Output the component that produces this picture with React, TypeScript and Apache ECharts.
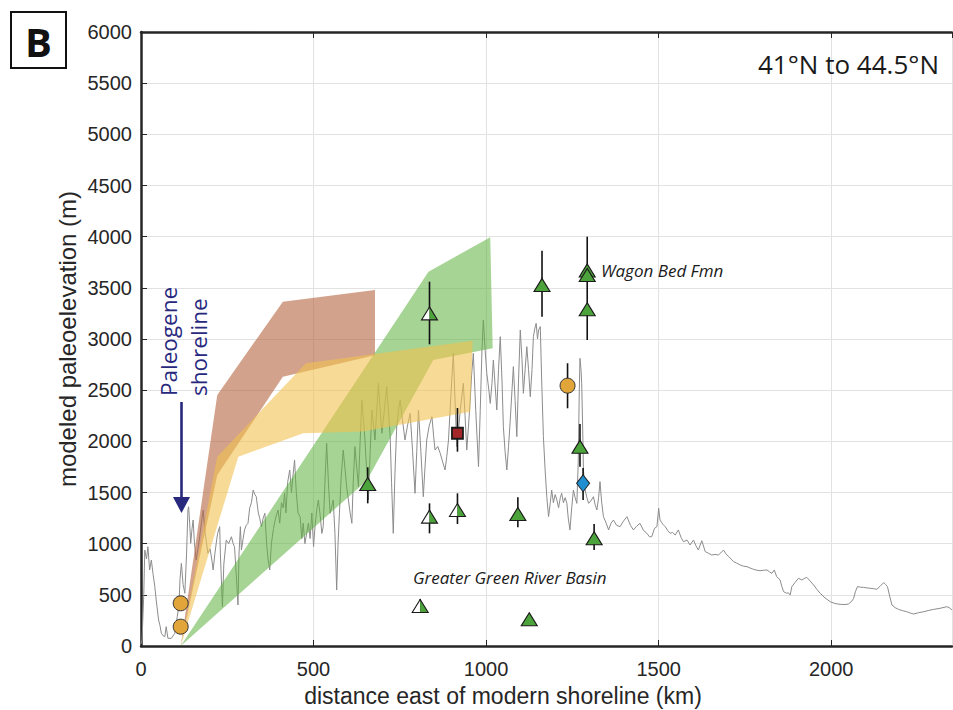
import React, { useEffect, useRef } from "react";
import * as echarts from "echarts";

// Topographic profile: [distance km, elevation m]
const topo: number[][] = [
  [0, 20], [3, 60], [8, 500], [11, 938], [16, 850], [20, 970], [25, 743], [30, 840], [35, 700], [40, 580],
  [44, 450], [51, 254], [55, 200], [59, 124], [64, 100], [69, 91], [73, 189], [78, 75], [88, 75], [98, 124],
  [105, 286], [110, 400], [113, 650], [117, 808], [122, 600], [127, 515], [132, 900], [136, 1329], [138, 1361],
  [141, 1200], [144, 1004], [148, 1150], [151, 1231], [155, 1000], [160, 840], [165, 950], [170, 1068],
  [175, 1200], [180, 1329], [186, 1100], [190, 1000], [194, 906], [200, 950], [205, 850], [209, 743],
  [214, 900], [218, 1004], [222, 1100], [228, 1166], [230, 900], [233, 645], [236, 384], [240, 800],
  [247, 1036], [254, 1000], [262, 1068], [267, 1000], [271, 970], [276, 700], [281, 401], [284, 900],
  [288, 1166], [291, 938], [296, 1050], [300, 1134], [305, 1180], [310, 1199], [315, 1350], [320, 1400],
  [325, 1524], [330, 1480], [334, 1459], [340, 1300], [344, 1250], [349, 1166], [354, 1250], [359, 1297],
  [364, 1000], [368, 850], [373, 743], [378, 1004], [384, 1150], [390, 1250], [397, 1329], [402, 1200],
  [407, 1400], [412, 1350], [416, 1492], [420, 1300], [425, 1600], [431, 1720], [436, 1500], [440, 1650],
  [445, 1818], [450, 1500], [455, 1300], [461, 1264], [466, 1050], [470, 1200], [475, 1000], [480, 1101],
  [485, 1200], [490, 1050], [495, 1300], [500, 970], [505, 1200], [510, 1350], [514, 1427], [520, 1250],
  [524, 1100], [528, 1166], [533, 1600], [538, 1981], [543, 1600], [548, 1297], [552, 1350], [557, 1427],
  [562, 1100], [567, 547], [571, 1000], [575, 1297], [580, 1650], [586, 1915], [592, 1700], [596, 1550],
  [601, 1427], [606, 1300], [611, 1199], [615, 1600], [620, 1948], [625, 1750], [630, 1557], [635, 2000],
  [640, 2404], [645, 2200], [649, 2013], [654, 1700], [659, 1427], [664, 1900], [669, 2306], [674, 2150],
  [678, 2013], [683, 2300], [688, 2567], [693, 2300], [698, 2079], [705, 2300], [712, 2534], [717, 2300],
  [722, 2046], [726, 1600], [731, 1101], [736, 1700], [741, 2143], [746, 2300], [751, 2404], [758, 2200],
  [765, 2013], [772, 2150], [780, 2274], [787, 1900], [794, 1492], [799, 1900], [804, 2306], [811, 1900],
  [818, 1459], [823, 1750], [828, 2013], [835, 2150], [843, 2241], [848, 2050], [852, 1915], [860, 1950],
  [867, 1883], [874, 1800], [881, 1720], [886, 1850], [891, 2013], [898, 2450], [905, 2860], [910, 2400],
  [915, 1948], [920, 2100], [925, 2306], [930, 2450], [934, 2567], [939, 2250], [944, 1915], [949, 2150],
  [954, 2404], [958, 2650], [963, 2860], [970, 2300], [978, 1752], [983, 2300], [988, 2893], [992, 3186],
  [997, 2900], [1002, 2665], [1008, 2500], [1012, 2371], [1017, 2567], [1021, 2795], [1026, 2550],
  [1031, 2306], [1036, 2700], [1041, 3023], [1046, 2600], [1050, 2143], [1055, 1900], [1060, 1720],
  [1065, 1950], [1070, 2209], [1075, 2500], [1079, 2730], [1084, 2400], [1089, 2046], [1094, 2600],
  [1099, 3088], [1104, 2800], [1108, 2469], [1113, 2700], [1118, 2925], [1123, 2700], [1128, 2436],
  [1133, 2700], [1137, 3023], [1141, 3100], [1145, 3153], [1149, 3000], [1152, 3088], [1157, 3121],
  [1161, 2600], [1166, 2046], [1171, 1720], [1176, 1450], [1181, 1264], [1186, 1400], [1190, 1524],
  [1195, 1400], [1200, 1480], [1205, 1427], [1210, 1350], [1215, 1450], [1219, 1492], [1224, 1400],
  [1229, 1450], [1234, 1394], [1238, 1250], [1243, 1134], [1248, 1350], [1253, 1524], [1258, 1450],
  [1263, 1394], [1267, 1800], [1270, 2500], [1272, 2811], [1275, 2700], [1277, 2567], [1280, 2100],
  [1282, 1720], [1285, 1600], [1287, 1524], [1292, 1450], [1297, 1394], [1304, 1420], [1311, 1459],
  [1316, 1380], [1321, 1329], [1326, 1450], [1330, 1606], [1335, 1400], [1340, 1264], [1348, 1200],
  [1355, 1134], [1362, 1200], [1369, 1231], [1378, 1180], [1388, 1166], [1398, 1220], [1408, 1264],
  [1418, 1180], [1427, 1134], [1436, 1170], [1446, 1199], [1456, 1130], [1466, 1101], [1473, 1068],
  [1480, 1068], [1488, 1150], [1495, 1166], [1500, 1346], [1504, 1231], [1512, 1190], [1519, 1166],
  [1526, 1130], [1533, 1101], [1540, 1110], [1548, 1085], [1557, 1134], [1565, 1060], [1572, 1019],
  [1582, 1036], [1591, 987], [1601, 1036], [1608, 980], [1615, 938], [1625, 1029], [1635, 922],
  [1645, 905], [1654, 889], [1663, 895], [1673, 889], [1680, 910], [1688, 938], [1695, 900], [1703, 873],
  [1710, 850], [1717, 824], [1726, 810], [1736, 792], [1746, 780], [1756, 775], [1765, 762], [1775, 749],
  [1785, 740], [1794, 736], [1804, 740], [1814, 743], [1821, 725], [1828, 710], [1835, 743], [1842, 678],
  [1852, 645], [1857, 580], [1862, 531], [1871, 515], [1876, 520], [1881, 498], [1886, 580], [1895, 620],
  [1905, 662], [1915, 645], [1922, 660], [1929, 671], [1939, 635], [1949, 596], [1958, 555], [1968, 515],
  [1982, 470], [1997, 433], [2011, 415], [2026, 407], [2040, 405], [2050, 410], [2060, 440], [2065, 466],
  [2070, 530], [2076, 580], [2085, 575], [2094, 573], [2103, 568], [2113, 564], [2123, 560], [2132, 554],
  [2142, 585], [2152, 619], [2158, 600], [2163, 580], [2170, 480], [2176, 401], [2185, 375], [2195, 358],
  [2207, 345], [2219, 335], [2229, 322], [2239, 313], [2253, 325], [2268, 335], [2283, 348], [2297, 358],
  [2315, 368], [2335, 384], [2342, 375], [2350, 352],
];

// Shaded model envelopes: polygon vertices [km, m]
const brownPoly: number[][] = [
  [115, 0], [221, 2453], [411, 3365], [678, 3479], [678, 2840], [411, 2632], [221, 1671],
];
const greenPoly: number[][] = [
  [115, 0], [833, 3658], [1012, 3994], [1019, 2909], [847, 2795], [654, 1616],
];
const yellowPoly: number[][] = [
  [115, 0], [221, 1850], [478, 2763], [961, 2983], [954, 2290], [644, 2095], [470, 2079], [282, 1850],
];

// Proxy estimates [km, m]
const fullTriangles: number[][] = [
  [1162, 3528], [1293, 3670], [1293, 3625], [1293, 3290], [1272, 1948],
  [1092, 1290], [1313, 1052], [1125, 261], [657, 1583],
];
const halfTriangles: number[][] = [
  [836, 3250], [836, 1264], [917, 1329], [809, 391],
];
const circles: number[][] = [[1236, 2544], [115, 417], [115, 189]];
const squares: number[][] = [[917, 2079]];
const diamonds: number[][] = [[1281, 1590]];

// Error bars [km, low m, high m]
const errorBars: number[][] = [
  [836, 2948, 3560], [1162, 3218, 3863], [1293, 2990, 4000], [1236, 2323, 2763],
  [917, 1899, 2326], [1272, 1752, 2170], [1281, 1427, 1740], [836, 1101, 1394],
  [917, 1192, 1492], [1092, 1160, 1453], [1313, 938, 1192], [809, 322, 459], [657, 1394, 1746],
];

const polys = [brownPoly, greenPoly, yellowPoly];
const polyColors = ["#b5643f", "#5cb03c", "#f2c14e"];
const polyOpacity = [0.6, 0.55, 0.6];

const GREEN = "#4da33b";
const AXIS = "#262626";
const FONT = "'Liberation Sans', Arial, Helvetica, sans-serif";
const MYRIAD = "'Open Sans', 'Noto Sans', sans-serif";
const NAVY = "#28287e";

export default function App() {
  const ref = useRef<HTMLDivElement>(null);
  useEffect(() => {
    const chart = echarts.init(ref.current!, null, { renderer: "svg" });
    const plain = (v: number) => String(v);
    const option: any = {
      animation: false,
      grid: { left: 141, right: 1, top: 32, bottom: 64, containLabel: false },
      xAxis: [
        {
          type: "value", min: 0, max: 2350, interval: 500, position: "bottom",
          axisLine: { show: true, onZero: false, lineStyle: { color: AXIS, width: 2.5 } },
          axisTick: { show: true, inside: true, length: 6, lineStyle: { color: AXIS } },
          axisLabel: { color: AXIS, fontSize: 20, fontFamily: FONT, margin: 13, showMaxLabel: false, formatter: plain },
          splitLine: { show: true, lineStyle: { color: "#e2e2e2", width: 1 } },
        },
        {
          type: "value", min: 0, max: 2350, interval: 500, position: "top",
          axisLine: { show: true, onZero: false, lineStyle: { color: AXIS, width: 2.5 } },
          axisTick: { show: true, inside: true, length: 6, lineStyle: { color: AXIS } },
          axisLabel: { show: false },
          splitLine: { show: false },
        },
      ],
      yAxis: {
        type: "value", min: 0, max: 6000, interval: 500,
        axisLine: { show: true, onZero: false, lineStyle: { color: AXIS, width: 2.5 } },
        axisTick: { show: true, inside: true, length: 6, lineStyle: { color: AXIS } },
        axisLabel: { color: AXIS, fontSize: 20, fontFamily: FONT, margin: 9, formatter: plain },
        splitLine: { show: true, lineStyle: { color: "#e2e2e2", width: 1 } },
      },
      series: [
        {
          type: "line", data: topo, showSymbol: false, symbol: "none", z: 2,
          lineStyle: { color: "#8c8c8c", width: 1 },
        },
        {
          type: "custom", data: [0, 1, 2], z: 3, silent: true,
          renderItem: (params: any, api: any) => {
            const i = params.dataIndex;
            const pts = polys[i].map((p) => api.coord(p));
            return {
              type: "polygon",
              shape: { points: pts },
              style: { fill: polyColors[i], opacity: polyOpacity[i], stroke: "none" },
            };
          },
        },
        {
          type: "custom", data: errorBars, z: 4, silent: true,
          encode: { x: 0, y: [1, 2] },
          renderItem: (params: any, api: any) => {
            const a = api.coord([api.value(0), api.value(1)]);
            const b = api.coord([api.value(0), api.value(2)]);
            return {
              type: "line",
              shape: { x1: a[0], y1: a[1], x2: b[0], y2: b[1] },
              style: { stroke: "#111", lineWidth: 1.6 },
            };
          },
        },
        {
          type: "scatter", data: fullTriangles, z: 5, symbol: "triangle", symbolSize: [16, 13],
          itemStyle: { color: GREEN, borderColor: "#1a1a1a", borderWidth: 1.1, opacity: 1 },
        },
        {
          type: "custom", data: halfTriangles, z: 5, silent: true,
          renderItem: (params: any, api: any) => {
            const p = api.coord([api.value(0), api.value(1)]);
            const w = 8, h = 6.5;
            return {
              type: "group",
              children: [
                { type: "polygon", shape: { points: [[p[0], p[1] - h], [p[0] - w, p[1] + h], [p[0], p[1] + h]] }, style: { fill: "#ffffff" } },
                { type: "polygon", shape: { points: [[p[0], p[1] - h], [p[0], p[1] + h], [p[0] + w, p[1] + h]] }, style: { fill: GREEN } },
                { type: "polygon", shape: { points: [[p[0], p[1] - h], [p[0] - w, p[1] + h], [p[0] + w, p[1] + h]] }, style: { fill: "none", stroke: "#1a1a1a", lineWidth: 1.1 } },
              ],
            };
          },
        },
        {
          type: "scatter", data: circles, z: 5, symbol: "circle", symbolSize: 15,
          itemStyle: { color: "#e2a53a", borderColor: "#333", borderWidth: 1, opacity: 1 },
        },
        {
          type: "scatter", data: squares, z: 5, symbol: "rect", symbolSize: 11,
          itemStyle: { color: "#a52629", borderColor: "#1a1a1a", borderWidth: 1.8, opacity: 1 },
        },
        {
          type: "scatter", data: diamonds, z: 5, symbol: "diamond", symbolSize: [13, 17],
          itemStyle: { color: "#1f8fd0", borderColor: "#222", borderWidth: 1, opacity: 1 },
        },
      ],
      graphic: [
        { type: "rect", shape: { x: 11, y: 12, width: 55, height: 56 }, style: { fill: "#fff", stroke: "#111", lineWidth: 2 }, z: 10 },
        { type: "text", x: 38.5, y: 41, style: { text: "B", fontSize: 40, fontWeight: "bold", fontFamily: MYRIAD, fill: "#111", align: "center", verticalAlign: "middle" }, z: 11 },
        { type: "text", x: 939, y: 64, style: { text: "41°N to 44.5°N", fontSize: 26, fontFamily: MYRIAD, fill: "#1a1a1a", align: "right", verticalAlign: "middle" }, z: 11 },
        { type: "text", x: 601, y: 270, style: { text: "Wagon Bed Fmn", fontSize: 17, fontStyle: "italic", fontFamily: MYRIAD, fill: "#1a1a1a", align: "left", verticalAlign: "middle" }, z: 11 },
        { type: "text", x: 413, y: 577, style: { text: "Greater Green River Basin", fontSize: 17, fontStyle: "italic", fontFamily: MYRIAD, fill: "#1a1a1a", align: "left", verticalAlign: "middle" }, z: 11 },
        { type: "text", x: 168.5, y: 396, rotation: Math.PI / 2, style: { text: "Paleogene", fontSize: 22.5, fontFamily: MYRIAD, fill: NAVY, align: "left", verticalAlign: "middle" }, z: 11 },
        { type: "text", x: 198, y: 396, rotation: Math.PI / 2, style: { text: "shoreline", fontSize: 22.5, fontFamily: MYRIAD, fill: NAVY, align: "left", verticalAlign: "middle" }, z: 11 },
        { type: "line", shape: { x1: 181.5, y1: 402, x2: 181.5, y2: 500 }, style: { stroke: NAVY, lineWidth: 2.6 }, z: 11 },
        { type: "polygon", shape: { points: [[173, 497], [190, 497], [181.5, 513]] }, style: { fill: NAVY }, z: 11 },
        { type: "text", x: 503, y: 696, style: { text: "distance east of modern shoreline (km)", fontSize: 23, fontFamily: FONT, fill: AXIS, align: "center", verticalAlign: "middle" }, z: 11 },
        { type: "text", x: 67, y: 339, rotation: Math.PI / 2, style: { text: "modeled paleoelevation (m)", fontSize: 24, fontFamily: FONT, fill: AXIS, align: "center", verticalAlign: "middle" }, z: 11 },
      ],
    };
    chart.setOption(option);
    return () => chart.dispose();
  }, []);
  return <div ref={ref} style={{ position: "absolute", left: 0, top: 0, width: 953, height: 710 }} />;
}
